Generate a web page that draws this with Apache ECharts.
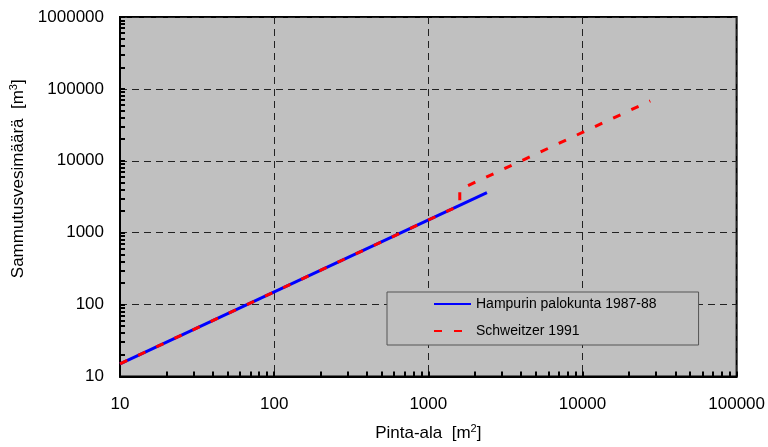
<!DOCTYPE html>
<html>
<head>
<meta charset="utf-8">
<script src="https://cdn.jsdelivr.net/npm/echarts@6/dist/echarts.min.js"></script>
<style>
  html, body { margin: 0; padding: 0; background: #fff; }
  #chart { width: 768px; height: 447px; }
</style>
</head>
<body>
<div id="chart"></div>
<script>
// data: [pinta-ala m2, sammutusvesi m3]
var hampuri = [[10, 15], [2400, 3600]];
var schweitzer = [[10, 15], [1600, 2400], [1600, 4000], [27500, 68000]];
var seriesNames = ['Hampurin palokunta 1987-88', 'Schweitzer 1991'];

(function drawChart() {
    var chartDom = document.getElementById('chart');
    var myChart = echarts.init(chartDom);
    var option;

    var fontFamily = 'Liberation Sans, Arial, sans-serif';
    var nameRich = {
        n: { fontSize: 17, color: '#000', fontFamily: fontFamily },
        s: { fontSize: 11, color: '#000', fontFamily: fontFamily, verticalAlign: 'top', padding: [0, 0, 9, 0] }
    };
    var plain = function (v) { return String(v); };

    option = {
        animation: false,
        textStyle: { fontFamily: fontFamily },
        grid: {
            left: 120,
            right: 31,
            top: 17,
            bottom: 65,
            show: true,
            backgroundColor: '#c0c0c0',
            borderColor: '#000',
            borderWidth: 2
        },
        legend: {
            data: seriesNames,
            orient: 'vertical',
            left: 387,
            top: 292,
            padding: [5, 42, 7, 46],
            itemWidth: 37,
            itemHeight: 4,
            itemGap: 13,
            itemStyle: { opacity: 0 },
            backgroundColor: '#c0c0c0',
            borderColor: '#555',
            borderWidth: 1,
            textStyle: { fontSize: 14, color: '#000', fontFamily: fontFamily }
        },
        xAxis: {
            type: 'log',
            logBase: 10,
            min: 10,
            max: 100000,
            name: '{n|Pinta-ala  [m}{s|2}{n|]}',
            nameLocation: 'middle',
            nameGap: 47,
            nameTextStyle: { rich: nameRich },
            axisLine: { lineStyle: { color: '#000', width: 2 } },
            axisTick: { show: true, inside: true, length: 5, lineStyle: { color: '#000', width: 2 } },
            minorTick: { show: true, splitNumber: 9, length: 5, lineStyle: { color: '#000', width: 2 } },
            axisLabel: { fontSize: 17, color: '#000', margin: 19, fontFamily: fontFamily, formatter: plain },
            splitLine: { lineStyle: { color: '#222', type: [7, 5], width: 1 } }
        },
        yAxis: {
            type: 'log',
            logBase: 10,
            min: 10,
            max: 1000000,
            name: '{n|Sammutusvesimäärä  [m}{s|3}{n|]}',
            nameLocation: 'middle',
            nameGap: 90,
            nameRotate: 90,
            nameTextStyle: { rich: nameRich, padding: [0, 0, 0, 36] },
            axisLine: { lineStyle: { color: '#000', width: 2 } },
            axisTick: { show: true, inside: true, length: 5, lineStyle: { color: '#000', width: 2 } },
            minorTick: { show: true, splitNumber: 9, length: 5, lineStyle: { color: '#000', width: 2 } },
            axisLabel: { fontSize: 17, color: '#000', margin: 16, fontFamily: fontFamily, formatter: plain },
            splitLine: { lineStyle: { color: '#222', type: [7, 5], width: 1 } }
        },
        series: [
            {
                name: seriesNames[0],
                type: 'line',
                data: hampuri,
                symbol: 'none',
                lineStyle: { color: '#0000ff', width: 3 },
                itemStyle: { color: '#0000ff' }
            },
            {
                name: seriesNames[1],
                type: 'line',
                data: schweitzer,
                symbol: 'none',
                lineStyle: { color: '#ff0000', width: 3, type: [8, 12] },
                itemStyle: { color: '#ff0000' }
            }
        ]
    };

    option && myChart.setOption(option);
})();
</script>
</body>
</html>
